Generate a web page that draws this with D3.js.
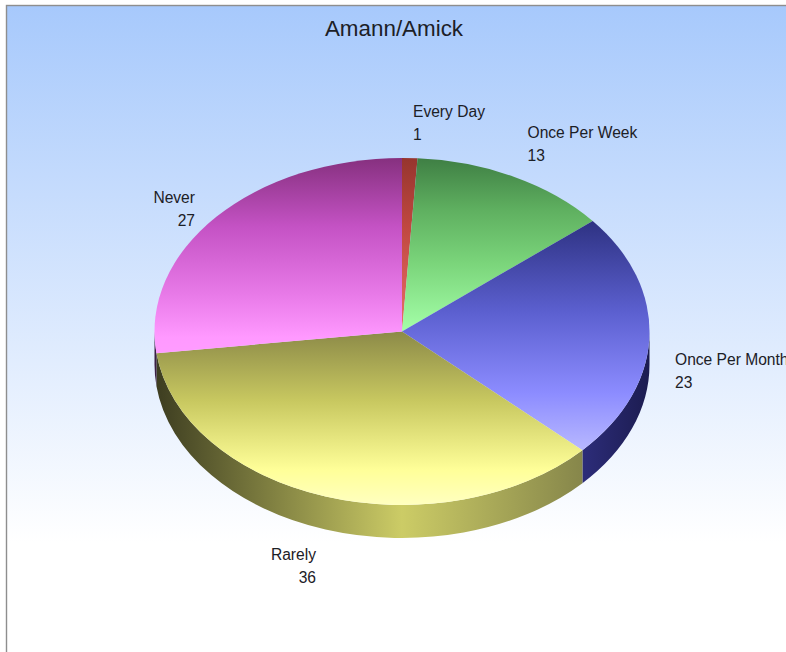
<!DOCTYPE html>
<html><head><meta charset="utf-8">
<script src="https://cdn.jsdelivr.net/npm/d3@7"></script>
<style>html,body{margin:0;padding:0;background:#fff;overflow:hidden}text{font-family:"Liberation Sans",Arial,sans-serif;fill:#1c2026}</style>
</head><body><svg id="c" width="786" height="652"></svg>
<script>
const title = "Amann/Amick";
const categories = ["Every Day","Once Per Week","Once Per Month","Rarely","Never"];
const values = [1,13,23,36,27];
const topStops = [
  [[0,"#96352e"],[0.4,"#c04840"],[1,"#e87068"]],
  [[0,"#3f7f44"],[0.3,"#5fb060"],[0.6,"#7ad47a"],[1,"#a4ffa8"]],
  [[0,"#2e3282"],[0.4,"#5c60d0"],[0.75,"#8c8cff"],[1,"#b8b8ff"]],
  [[0,"#8c8a48"],[0.4,"#c8c860"],[0.8,"#ffff99"],[1,"#ffffc0"]],
  [[0,"#86307f"],[0.35,"#c452c4"],[0.7,"#e87ae8"],[0.92,"#ff99ff"],[1,"#ff9cff"]]
];
const sideDark = ["#5a2020","#204a20","#1c1c50","#4e4e28","#3a1f44"];
const sideLight = ["#a04040","#60a060","#2c2c78","#cccc66","#7a3a7a"];

const W=786,H=652;
const cx=402,cy=331.5,rx=247.5,ry=173.5,depth=33;
const svg=d3.select("#c");
const defs=svg.append("defs");
const bg=defs.append("linearGradient").attr("id","bg").attr("x1",0).attr("y1",0).attr("x2",0).attr("y2",1);
bg.append("stop").attr("offset",0).attr("stop-color","#a7c9fc");
bg.append("stop").attr("offset",0.8).attr("stop-color","#ffffff");
bg.append("stop").attr("offset",1).attr("stop-color","#ffffff");
svg.append("rect").attr("x",6.5).attr("y",5.5).attr("width",W+20).attr("height",H+20)
  .attr("fill","url(#bg)").attr("stroke","#8e8e8e").attr("stroke-width",1.4);

const pieData=d3.pie().sort(null).value(d=>d)(values);
const sx=d3.scaleLinear().domain([-1,1]).range([cx-rx,cx+rx]);
const sy=d3.scaleLinear().domain([-1,1]).range([cy-ry,cy+ry]);
const px=a=>sx(Math.sin(a)), py=a=>sy(-Math.cos(a));

const sideG=svg.append("g");
pieData.forEach((d,i)=>{
  const a0=Math.max(d.startAngle,Math.PI/2), a1=Math.min(d.endAngle,Math.PI*1.5);
  if(a1<=a0) return;
  const id="side"+i;
  const g=defs.append("linearGradient").attr("id",id).attr("gradientUnits","userSpaceOnUse")
    .attr("x1",sx(-1)).attr("x2",sx(1)).attr("y1",0).attr("y2",0);
  if(i===3){
    g.append("stop").attr("offset",0).attr("stop-color","#3c3c20");
    g.append("stop").attr("offset",0.5).attr("stop-color",sideLight[i]);
    g.append("stop").attr("offset",0.87).attr("stop-color","#85854a");
  } else {
    g.append("stop").attr("offset",0).attr("stop-color",sideDark[i]);
    g.append("stop").attr("offset",0.87).attr("stop-color",sideLight[i]);
    g.append("stop").attr("offset",1).attr("stop-color",sideDark[i]);
  }
  const seg=(x1,y1,sweep)=>`A${rx},${ry} 0 0 ${sweep} ${x1},${y1}`;
  const dStr=`M${px(a0)},${py(a0)}`+seg(px(a1),py(a1),1)+
    `L${px(a1)},${py(a1)+depth}`+seg(px(a0),py(a0)+depth,0)+"Z";
  sideG.append("path").attr("d",dStr).attr("fill",`url(#${id})`);
});

const arc=d3.arc().innerRadius(0).outerRadius(rx);
const topG=svg.append("g").attr("transform",`translate(${cx},${cy}) scale(1,${ry/rx})`);
pieData.forEach((d,i)=>{
  const id="top"+i;
  const g=defs.append("linearGradient").attr("id",id).attr("x1",0).attr("y1",0).attr("x2",0).attr("y2",1);
  topStops[i].forEach(s=>g.append("stop").attr("offset",s[0]).attr("stop-color",s[1]));
  topG.append("path").attr("d",arc(d)).attr("fill",`url(#${id})`);
});

const labelX=[413,527.5,675,316,195];
const labelY=[117,138,365,560,203];
const anchors=["start","start","start","end","end"];
const lh=22.5;
categories.forEach((c,i)=>{
  svg.append("text").attr("x",labelX[i]).attr("y",labelY[i]).attr("text-anchor",anchors[i])
    .attr("font-size",15.6).text(c);
  svg.append("text").attr("x",labelX[i]).attr("y",labelY[i]+lh).attr("text-anchor",anchors[i])
    .attr("font-size",15.6).text(values[i]);
});
svg.append("text").attr("x",394).attr("y",36).attr("text-anchor","middle").attr("font-size",22.4).text(title);
</script></body></html>
